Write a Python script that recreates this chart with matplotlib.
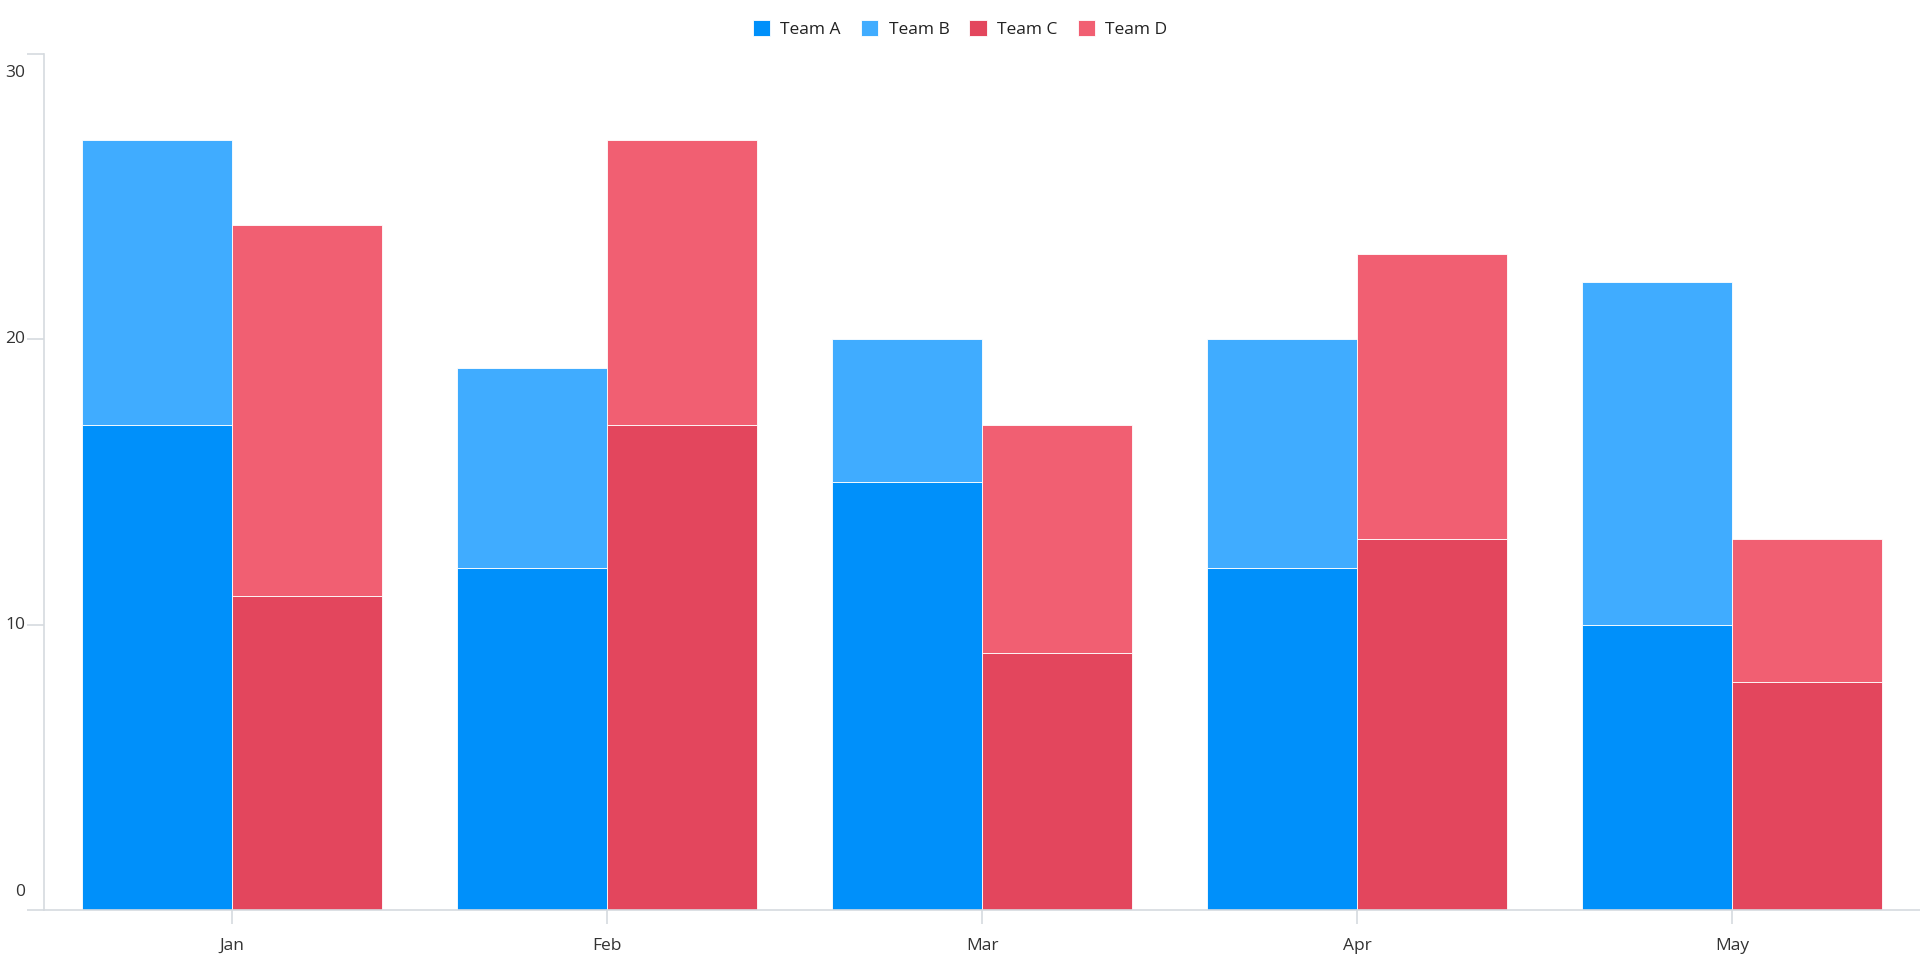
import numpy as np
import matplotlib.transforms as mtransforms
from matplotlib import pyplot as plt

months = ['Jan', 'Feb', 'Mar', 'Apr', 'May']
team_a = [17, 12, 15, 12, 10]
team_b = [10, 7, 5, 8, 12]
team_c = [11, 17, 9, 13, 8]
team_d = [13, 10, 8, 10, 5]
y_ticks = [0, 10, 20, 30]

plt.rcParams['font.family'] = ['Open Sans', 'DejaVu Sans']

fig = plt.figure(figsize=(19.2, 9.57), dpi=100)
ax = fig.add_axes([44 / 1920, 47 / 957, 1 - 44 / 1920, (910 - 54) / 957])

x = np.arange(len(months))
w = 0.4
edge = dict(edgecolor='#ffffff', linewidth=0.6)
ax.bar(x - w / 2, team_a, w, color='#0090FA', label='Team A', **edge)
ax.bar(x - w / 2, team_b, w, bottom=team_a, color='#40ACFF', label='Team B', **edge)
ax.bar(x + w / 2, team_c, w, color='#E3465D', label='Team C', **edge)
ax.bar(x + w / 2, team_d, w, bottom=team_c, color='#F15F72', label='Team D', **edge)

ax.set_xlim(-0.5, 4.5)
ax.set_ylim(0, 30)
ax.set_xticks(x)
ax.set_xticklabels(months)
ax.set_yticks(y_ticks)
ax.set_yticklabels([])

# y labels drawn by hand so the end ones can sit inside the axis range
shifts = [0.18, 0, 0, -0.19]
for v, dy in zip(y_ticks, shifts):
    tr = ax.get_yaxis_transform() + mtransforms.ScaledTranslation(-0.19, dy, fig.dpi_scale_trans)
    ax.text(0, v, str(v), transform=tr, ha='right', va='center', fontsize=12.5,
            color='#333333', clip_on=False)

for s in ['top', 'right']:
    ax.spines[s].set_visible(False)
for s in ['left', 'bottom']:
    ax.spines[s].set_color('#D5DADF')
    ax.spines[s].set_linewidth(1.2)
ax.tick_params(axis='x', length=10, color='#D5DADF', width=1.2, labelsize=12.5,
               labelcolor='#333333', pad=10)
ax.tick_params(axis='y', length=12, color='#D5DADF', width=1.2)

leg = fig.legend(loc='upper center', bbox_to_anchor=(0.5, 0.995), ncol=4, frameon=False,
                 fontsize=12.5, handlelength=1.0, handleheight=1.0, handletextpad=0.6,
                 columnspacing=1.15)
for t in leg.get_texts():
    t.set_color('#222222')

fig.savefig('out.png', dpi=100)
